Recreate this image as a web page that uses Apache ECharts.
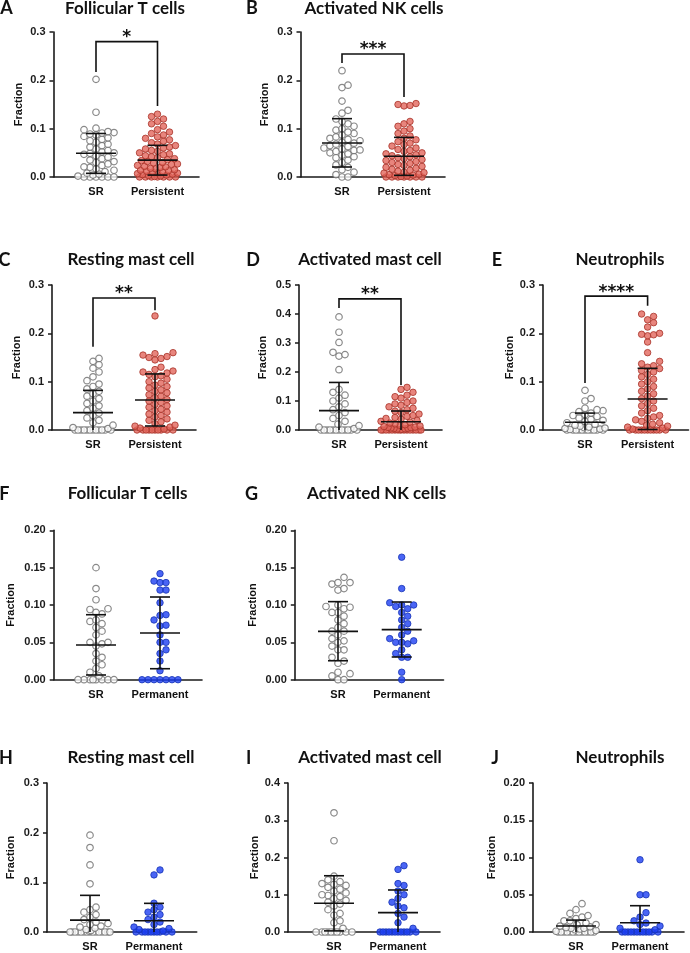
<!DOCTYPE html>
<html>
<head>
<meta charset="utf-8">
<script src="https://cdn.jsdelivr.net/npm/echarts@6/dist/echarts.min.js"></script>
<style>
  html, body { margin: 0; padding: 0; background: #fff; }
  #main { width: 690px; height: 953px; }
</style>
</head>
<body>
<div id="main"></div>
<script>
// group names on the x axes
const groupsTop = ['SR', 'Persistent']
const groupsBottom = ['SR', 'Permanent']

// fractions, one array per dot column
const A_sr = [0.202, 0.134, 0.101, 0.098, 0.094, 0.092, 0.091, 0.089, 0.087, 0.084, 0.081, 0.078, 0.075, 0.072, 0.068, 0.065, 0.062, 0.058, 0.055, 0.052, 0.05, 0.049, 0.047, 0.044, 0.041, 0.038, 0.035, 0.032, 0.03, 0.027, 0.024, 0.021, 0.02, 0.017, 0.014, 0.011, 0.008, 0.006, 0.004, 0.002, 0, 0, 0, 0, 0, 0]
const A_pers = [0.13, 0.125, 0.12, 0.115, 0.11, 0.105, 0.098, 0.093, 0.09, 0.087, 0.083, 0.08, 0.077, 0.074, 0.071, 0.068, 0.065, 0.062, 0.06, 0.058, 0.055, 0.053, 0.05, 0.048, 0.046, 0.044, 0.042, 0.04, 0.038, 0.036, 0.034, 0.032, 0.03, 0.029, 0.027, 0.026, 0.024, 0.022, 0.021, 0.02, 0.018, 0.017, 0.015, 0.014, 0.013, 0.012, 0.011, 0.01, 0.009, 0.008, 0.007, 0.006, 0.005, 0.004, 0.003, 0.002, 0.001, 0, 0, 0, 0, 0, 0, 0]
const B_sr = [0.22, 0.19, 0.185, 0.157, 0.138, 0.132, 0.12, 0.115, 0.11, 0.105, 0.1, 0.097, 0.093, 0.09, 0.087, 0.083, 0.08, 0.078, 0.075, 0.072, 0.07, 0.068, 0.065, 0.063, 0.06, 0.058, 0.056, 0.055, 0.053, 0.05, 0.048, 0.045, 0.042, 0.04, 0.035, 0.03, 0.025, 0.02, 0.015, 0.01, 0.005, 0, 0]
const B_pers = [0.152, 0.15, 0.148, 0.147, 0.115, 0.11, 0.105, 0.1, 0.095, 0.09, 0.085, 0.08, 0.077, 0.073, 0.07, 0.067, 0.064, 0.06, 0.057, 0.055, 0.053, 0.05, 0.048, 0.046, 0.044, 0.042, 0.04, 0.038, 0.036, 0.034, 0.032, 0.03, 0.028, 0.026, 0.024, 0.022, 0.02, 0.018, 0.016, 0.014, 0.012, 0.01, 0.009, 0.008, 0.006, 0.005, 0.004, 0.003, 0.002, 0.001, 0, 0, 0, 0, 0, 0, 0]
const C_sr = [0.148, 0.142, 0.135, 0.128, 0.12, 0.11, 0.102, 0.095, 0.09, 0.085, 0.08, 0.075, 0.07, 0.065, 0.06, 0.055, 0.05, 0.045, 0.04, 0.035, 0.03, 0.025, 0.02, 0.015, 0.01, 0.005, 0.003, 0, 0, 0, 0, 0, 0, 0, 0, 0, 0, 0, 0]
const C_pers = [0.236, 0.16, 0.158, 0.155, 0.152, 0.15, 0.148, 0.145, 0.13, 0.125, 0.122, 0.12, 0.118, 0.115, 0.112, 0.11, 0.105, 0.1, 0.097, 0.093, 0.09, 0.087, 0.083, 0.08, 0.077, 0.073, 0.07, 0.067, 0.063, 0.06, 0.057, 0.053, 0.05, 0.047, 0.043, 0.04, 0.037, 0.033, 0.03, 0.027, 0.023, 0.02, 0.017, 0.013, 0.01, 0.008, 0.006, 0.004, 0.002, 0, 0, 0, 0, 0, 0, 0, 0, 0, 0]
const D_sr = [0.39, 0.337, 0.302, 0.268, 0.26, 0.255, 0.208, 0.14, 0.13, 0.12, 0.11, 0.1, 0.09, 0.08, 0.07, 0.06, 0.05, 0.04, 0.03, 0.02, 0.015, 0.01, 0.005, 0, 0, 0, 0, 0, 0, 0, 0, 0, 0, 0, 0]
const D_pers = [0.147, 0.14, 0.13, 0.12, 0.115, 0.11, 0.1, 0.095, 0.09, 0.085, 0.08, 0.075, 0.07, 0.065, 0.06, 0.055, 0.05, 0.047, 0.043, 0.04, 0.037, 0.033, 0.03, 0.027, 0.024, 0.021, 0.018, 0.016, 0.014, 0.012, 0.01, 0.009, 0.008, 0.007, 0.006, 0.005, 0.004, 0.003, 0.002, 0.001, 0, 0, 0, 0, 0, 0, 0, 0, 0, 0, 0, 0, 0, 0, 0]
const E_sr = [0.082, 0.065, 0.06, 0.045, 0.042, 0.04, 0.038, 0.035, 0.032, 0.03, 0.028, 0.025, 0.022, 0.02, 0.018, 0.015, 0.012, 0.01, 0.008, 0.006, 0.005, 0.004, 0.003, 0.002, 0.001, 0, 0, 0, 0, 0, 0, 0, 0, 0, 0, 0]
const E_pers = [0.24, 0.235, 0.228, 0.222, 0.213, 0.2, 0.198, 0.197, 0.195, 0.182, 0.16, 0.142, 0.137, 0.133, 0.13, 0.127, 0.123, 0.12, 0.115, 0.11, 0.105, 0.1, 0.095, 0.09, 0.085, 0.08, 0.075, 0.07, 0.065, 0.06, 0.055, 0.05, 0.045, 0.04, 0.035, 0.03, 0.027, 0.024, 0.021, 0.018, 0.015, 0.012, 0.01, 0.008, 0.006, 0.004, 0.002, 0, 0, 0, 0, 0, 0, 0, 0, 0, 0, 0]
const F_sr = [0.15, 0.122, 0.107, 0.095, 0.094, 0.09, 0.088, 0.08, 0.078, 0.075, 0.07, 0.065, 0.06, 0.05, 0.05, 0.048, 0.045, 0.035, 0.03, 0.025, 0.02, 0.015, 0.01, 0.005, 0, 0, 0, 0, 0, 0, 0, 0]
const F_perm = [0.142, 0.132, 0.13, 0.13, 0.12, 0.12, 0.103, 0.087, 0.086, 0.08, 0.073, 0.072, 0.06, 0.05, 0.05, 0.04, 0.035, 0.025, 0.012, 0, 0, 0, 0, 0, 0, 0]
const G_sr = [0.137, 0.13, 0.13, 0.128, 0.122, 0.12, 0.1, 0.098, 0.097, 0.095, 0.09, 0.09, 0.085, 0.08, 0.075, 0.07, 0.065, 0.065, 0.06, 0.055, 0.052, 0.05, 0.045, 0.04, 0.04, 0.03, 0.025, 0.022, 0.01, 0.008, 0.005, 0, 0]
const G_perm = [0.164, 0.122, 0.103, 0.1, 0.1, 0.098, 0.095, 0.09, 0.085, 0.08, 0.075, 0.07, 0.065, 0.06, 0.055, 0.052, 0.05, 0.05, 0.048, 0.04, 0.035, 0.03, 0.03, 0.01, 0]
const H_sr = [0.195, 0.17, 0.135, 0.097, 0.05, 0.045, 0.04, 0.035, 0.03, 0.025, 0.02, 0.017, 0.015, 0.012, 0.01, 0.008, 0.005, 0.003, 0.002, 0, 0, 0, 0, 0, 0, 0, 0, 0, 0, 0, 0, 0, 0, 0]
const H_perm = [0.125, 0.115, 0.058, 0.05, 0.045, 0.04, 0.035, 0.03, 0.025, 0.02, 0.015, 0.01, 0.007, 0.005, 0.002, 0, 0, 0, 0, 0, 0, 0, 0, 0, 0]
const I_sr = [0.32, 0.245, 0.15, 0.14, 0.135, 0.13, 0.128, 0.125, 0.12, 0.115, 0.11, 0.105, 0.1, 0.098, 0.095, 0.09, 0.085, 0.08, 0.075, 0.07, 0.06, 0.05, 0.045, 0.03, 0.025, 0.01, 0, 0, 0, 0, 0, 0, 0, 0, 0, 0]
const I_perm = [0.178, 0.168, 0.13, 0.125, 0.11, 0.1, 0.09, 0.08, 0.07, 0.065, 0.05, 0.04, 0.025, 0.01, 0, 0, 0, 0, 0, 0, 0, 0, 0, 0, 0, 0]
const J_sr = [0.038, 0.03, 0.025, 0.022, 0.02, 0.018, 0.015, 0.015, 0.012, 0.01, 0.01, 0.008, 0.007, 0.006, 0.005, 0.005, 0.004, 0.003, 0.002, 0.001, 0, 0, 0, 0, 0, 0, 0, 0, 0, 0, 0, 0, 0]
const J_perm = [0.097, 0.05, 0.05, 0.026, 0.02, 0.015, 0.012, 0.01, 0.008, 0.005, 0.003, 0, 0, 0, 0, 0, 0, 0, 0, 0, 0, 0, 0]

// mean and mean ± SD as drawn, [SR, other group]
const A_mean = [0.049, 0.035],  A_low = [0.0076, 0.004],  A_high = [0.090, 0.0655]
const B_mean = [0.0703, 0.0428], B_low = [0.0207, 0.0034], B_high = [0.1207, 0.082]
const C_mean = [0.036, 0.062],  C_low = [-0.01, 0.0083],  C_high = [0.082, 0.116]
const D_mean = [0.0667, 0.0287], D_low = [-0.031, -0.008], D_high = [0.164, 0.0655]
const E_mean = [0.0159, 0.064], E_low = [-0.003, 0.001],  E_high = [0.035, 0.1276]
const F_mean = [0.0464, 0.0625], F_low = [0.0063, 0.0147], F_high = [0.087, 0.1107]
const G_mean = [0.0647, 0.067], G_low = [0.0254, 0.0304], G_high = [0.1045, 0.104]
const H_mean = [0.024, 0.0228], H_low = [-0.026, -0.012], H_high = [0.0738, 0.0577]
const I_mean = [0.077, 0.052],  I_low = [0.003, -0.009],  I_high = [0.151, 0.1128]
const J_mean = [0.008, 0.0125], J_low = [0.0, -0.01],     J_high = [0.016, 0.0353]

const sigLabels = ['*', '***', '**', '**', '****']

const RED = { color: '#e2675c', borderColor: '#a83228', borderWidth: 1 }
const BLUE = { color: '#1d3ff2', borderColor: '#1633b4', borderWidth: 1 }
const OPEN = { color: '#ffffff', borderColor: '#6b6b6b', borderWidth: 1.2 }

// panel layout in pixels: axis box, group centres, title / letter / name positions
const panels = [
  { key: 'A', title: 'Follicular T cells', sr: A_sr, other: A_pers, mean: A_mean, low: A_low, high: A_high, groups: groupsTop, fill: RED, ymax: 0.3, step: 0.1, dec: 1, sig: sigLabels[0], bracket: [0.28, 0.217, 0.147],
    left: 53.5, right: 199, top: 32, bottom: 177, c1: 96, c2: 157.5, tx: 125, ty: 8.5, lx: 6.6, nameX: 18.5 },
  { key: 'B', title: 'Activated NK cells', sr: B_sr, other: B_pers, mean: B_mean, low: B_low, high: B_high, groups: groupsTop, fill: RED, ymax: 0.3, step: 0.1, dec: 1, sig: sigLabels[1], bracket: [0.2545, 0.236, 0.1655],
    left: 300.5, right: 445, top: 32, bottom: 177, c1: 342, c2: 404, tx: 374, ty: 8.5, lx: 252, nameX: 265 },
  { key: 'C', title: 'Resting mast cell', sr: C_sr, other: C_pers, mean: C_mean, low: C_low, high: C_high, groups: groupsTop, fill: RED, ymax: 0.3, step: 0.1, dec: 1, sig: sigLabels[2], bracket: [0.273, 0.172, 0.248],
    left: 52, right: 196, top: 285, bottom: 430, c1: 93, c2: 155, tx: 131, ty: 260, lx: 4.4, nameX: 16.7 },
  { key: 'D', title: 'Activated mast cell', sr: D_sr, other: D_pers, mean: D_mean, low: D_low, high: D_high, groups: groupsTop, fill: RED, ymax: 0.5, step: 0.1, dec: 1, sig: sigLabels[3], bracket: [0.452, 0.421, 0.155],
    left: 299, right: 442, top: 285, bottom: 430, c1: 339, c2: 401, tx: 370, ty: 260, lx: 253, nameX: 263 },
  { key: 'E', title: 'Neutrophils', sr: E_sr, other: E_pers, mean: E_mean, low: E_low, high: E_high, groups: groupsTop, fill: RED, ymax: 0.3, step: 0.1, dec: 1, sig: sigLabels[4], bracket: [0.277, 0.097, 0.257],
    left: 543, right: 688.5, top: 285, bottom: 430, c1: 585, c2: 647.6, tx: 620, ty: 260, lx: 497, nameX: 509.5 },
  { key: 'F', title: 'Follicular T cells', sr: F_sr, other: F_perm, mean: F_mean, low: F_low, high: F_high, groups: groupsBottom, fill: BLUE, ymax: 0.2, step: 0.05, dec: 2,
    left: 53.7, right: 202, top: 530.3, bottom: 679.7, c1: 96, c2: 160, tx: 127.6, ty: 494, lx: 4.4, nameX: 11 },
  { key: 'G', title: 'Activated NK cells', sr: G_sr, other: G_perm, mean: G_mean, low: G_low, high: G_high, groups: groupsBottom, fill: BLUE, ymax: 0.2, step: 0.05, dec: 2,
    left: 294.8, right: 443.5, top: 530.3, bottom: 679.7, c1: 338, c2: 401.7, tx: 376.6, ty: 494, lx: 251.6, nameX: 253 },
  { key: 'H', title: 'Resting mast cell', sr: H_sr, other: H_perm, mean: H_mean, low: H_low, high: H_high, groups: groupsBottom, fill: BLUE, ymax: 0.3, step: 0.1, dec: 1,
    left: 47, right: 196.7, top: 783, bottom: 932, c1: 90, c2: 154, tx: 131, ty: 758, lx: 6, nameX: 11 },
  { key: 'I', title: 'Activated mast cell', sr: I_sr, other: I_perm, mean: I_mean, low: I_low, high: I_high, groups: groupsBottom, fill: BLUE, ymax: 0.4, step: 0.1, dec: 1,
    left: 288, right: 440, top: 783, bottom: 932, c1: 334, c2: 398, tx: 370, ty: 758, lx: 248.6, nameX: 255 },
  { key: 'J', title: 'Neutrophils', sr: J_sr, other: J_perm, mean: J_mean, low: J_low, high: J_high, groups: groupsBottom, fill: BLUE, ymax: 0.2, step: 0.05, dec: 2,
    left: 533, right: 684, top: 783, bottom: 932, c1: 576, c2: 640, tx: 620, ty: 758, lx: 495, nameX: 492 }
]

const DOT = 6.5          // symbol size, px
const SPREAD = 6         // horizontal spacing of side by side dots, px
const HALF = 20          // widest sideways push, px
const AXIS_FONT = 'Liberation Sans, Arial, sans-serif'
const TITLE_FONT = 'Lato, "Open Sans", sans-serif'

// Prism style scatter: dots with close values are pushed sideways,
// the column stays within ±HALF px and crowded rows overlap
function swarm(values, centre, pxY, pxX) {
  const sorted = values.slice().sort((a, b) => a - b)
  const placed = []
  const out = []
  const gap = (off, y) => placed.reduce((m, p) => Math.min(m, Math.hypot(p[0] - off, p[1] - y)), Infinity)
  sorted.forEach(v => {
    const y = v * pxY
    let off = null
    for (let i = 0; ; i++) {
      const o = i === 0 ? 0 : (i % 2 ? 1 : -1) * Math.ceil(i / 2) * SPREAD
      if (Math.abs(o) > HALF) break
      if (gap(o, y) >= SPREAD - 0.01) { off = o; break }
    }
    if (off === null) {
      let best = -1
      for (let o = -HALF; o <= HALF; o += 1) {
        const g = gap(o, y)
        if (g > best + 0.01 || (Math.abs(g - best) <= 0.01 && Math.abs(o) < Math.abs(off))) { best = g; off = o }
      }
    }
    placed.push([off, y])
    out.push([centre + off / pxX, v])
  })
  return out
}

function errorBar(params, api) {
  const x = api.value(0), m = api.value(1), lo = api.value(2), hi = api.value(3)
  const pm = api.coord([x, m])
  const ph = api.coord([x, hi])
  const pl = api.coord([x, Math.max(lo, 0)])
  const st = { stroke: '#111', lineWidth: 1.6 }
  const children = [
    { type: 'line', shape: { x1: pm[0] - 20, y1: pm[1], x2: pm[0] + 20, y2: pm[1] }, style: st },
    { type: 'line', shape: { x1: ph[0], y1: ph[1], x2: pl[0], y2: pl[1] }, style: st },
    { type: 'line', shape: { x1: ph[0] - 10, y1: ph[1], x2: ph[0] + 10, y2: ph[1] }, style: st }
  ]
  if (lo > 0) {
    children.push({ type: 'line', shape: { x1: pl[0] - 10, y1: pl[1], x2: pl[0] + 10, y2: pl[1] }, style: st })
  }
  return { type: 'group', children: children }
}

function annotate(p) {
  return function (params, api) {
    const a = api.coord([1, 0]), b = api.coord([2, 0])
    const children = [
      { type: 'text', style: { text: p.groups[0], x: a[0], y: a[1] + 15, align: 'center', verticalAlign: 'middle', fill: '#111', font: 'bold 11px ' + AXIS_FONT } },
      { type: 'text', style: { text: p.groups[1], x: b[0], y: b[1] + 15, align: 'center', verticalAlign: 'middle', fill: '#111', font: 'bold 11px ' + AXIS_FONT } }
    ]
    if (p.sig) {
      const t1 = api.coord([1, p.bracket[0]]), l1 = api.coord([1, p.bracket[1]])
      const t2 = api.coord([2, p.bracket[0]]), l2 = api.coord([2, p.bracket[2]])
      children.push({ type: 'polyline', shape: { points: [l1, t1, t2, l2] }, style: { stroke: '#111', lineWidth: 1.6, fill: null } })
      children.push({ type: 'text', style: { text: p.sig, x: (t1[0] + t2[0]) / 2, y: t1[1] - 4, align: 'center', verticalAlign: 'middle', fill: '#111', font: 'bold 17px "DejaVu Sans", sans-serif' } })
    }
    return { type: 'group', children: children }
  }
}

const grid = [], xAxis = [], yAxis = [], series = [], graphic = []

panels.forEach((p, i) => {
  const unit = p.c2 - p.c1
  const pxY = (p.bottom - p.top) / p.ymax
  grid.push({ left: p.left, top: p.top, width: p.right - p.left, height: p.bottom - p.top, containLabel: false })
  xAxis.push({
    gridIndex: i, type: 'value',
    min: 1 - (p.c1 - p.left) / unit, max: 1 + (p.right - p.c1) / unit,
    axisLine: { onZero: false, lineStyle: { color: '#1a1a1a', width: 1.6 } },
    axisTick: { show: false }, axisLabel: { show: false }, splitLine: { show: false }
  })
  yAxis.push({
    gridIndex: i, type: 'value', min: 0, max: p.ymax, interval: p.step,
    axisLine: { show: true, onZero: false, lineStyle: { color: '#1a1a1a', width: 1.6 } },
    axisTick: { show: true, length: 4, lineStyle: { width: 1.5, color: '#1a1a1a' } },
    axisLabel: { margin: 8, color: '#1a1a1a', fontWeight: 'bold', fontSize: 11, fontFamily: AXIS_FONT, formatter: v => v.toFixed(p.dec) },
    splitLine: { show: false }
  })
  series.push({
    type: 'scatter', xAxisIndex: i, yAxisIndex: i, symbol: 'circle', symbolSize: DOT,
    data: swarm(p.sr, 1, pxY, unit), itemStyle: OPEN, z: 2, silent: true
  })
  series.push({
    type: 'scatter', xAxisIndex: i, yAxisIndex: i, symbol: 'circle', symbolSize: DOT,
    data: swarm(p.other, 2, pxY, unit), itemStyle: p.fill, z: 2, silent: true
  })
  series.push({
    type: 'custom', xAxisIndex: i, yAxisIndex: i, renderItem: errorBar, z: 5, silent: true,
    data: [[1, p.mean[0], p.low[0], p.high[0]], [2, p.mean[1], p.low[1], p.high[1]]]
  })
  series.push({
    type: 'custom', xAxisIndex: i, yAxisIndex: i, renderItem: annotate(p), z: 6, silent: true,
    data: [[1.5, 0]]
  })
  graphic.push({ type: 'text', x: p.tx, y: p.ty, style: { text: p.title, align: 'center', verticalAlign: 'middle', fill: '#111', font: 'bold 17px ' + TITLE_FONT } })
  graphic.push({ type: 'text', x: p.lx, y: p.ty, style: { text: p.key, align: 'center', verticalAlign: 'middle', fill: '#111', font: 'bold 18px ' + TITLE_FONT } })
  graphic.push({ type: 'text', x: p.nameX, y: (p.top + p.bottom) / 2, rotation: Math.PI / 2, style: { text: 'Fraction', align: 'center', verticalAlign: 'middle', fill: '#111', font: 'bold 11px ' + AXIS_FONT } })
})

const chart = echarts.init(document.getElementById('main'), null, { renderer: 'canvas' })
chart.setOption({
  animation: false,
  grid: grid,
  xAxis: xAxis,
  yAxis: yAxis,
  series: series,
  graphic: graphic
})
</script>
</body>
</html>
